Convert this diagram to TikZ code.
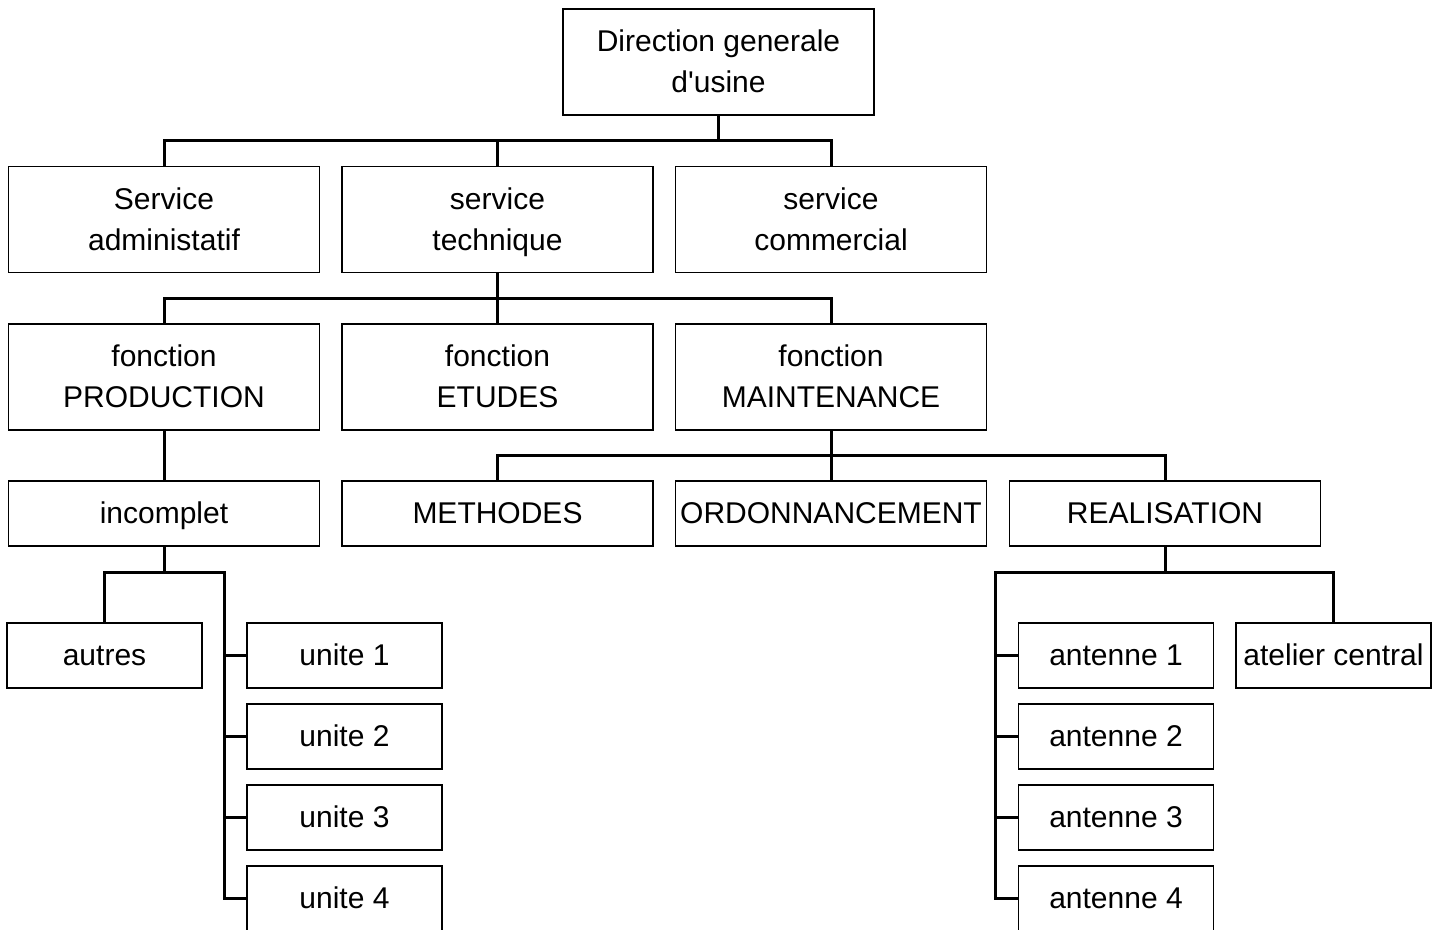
\documentclass[tikz,border=0pt]{standalone}
\usepackage{fontspec}
\setmainfont{Liberation Sans}[Ligatures=TeXOff]
\begin{document}
\begin{tikzpicture}[x=1pt,y=-1pt,
  box/.style={draw, line width=1.6pt, fill=white, align=center, inner sep=0pt,
    font=\fontsize{30}{41}\selectfont, text depth=7pt},
  big/.style={box, minimum width=311pt, minimum height=106pt, text height=68pt},
  small/.style={box, minimum width=311pt, minimum height=65pt, text height=26pt},
  leaf/.style={box, minimum width=195pt, minimum height=65pt, text height=26pt},
  link/.style={line width=3pt}]
\useasboundingbox (0,0) rectangle (1439,929);
\fill[white] (0,0) rectangle (1439,929);
% nodes
\node[big] (dir) at (718.5,62) {Direction generale\\d'usine};
\node[big] (sadm) at (164,219.5) {Service\\administatif};
\node[big] (stech) at (497.5,219.5) {service\\technique};
\node[big] (scom) at (831,219.5) {service\\commercial};
\node[big] (fprod) at (164,377) {fonction\\PRODUCTION};
\node[big] (fetud) at (497.5,377) {fonction\\ETUDES};
\node[big] (fmaint) at (831,377) {fonction\\MAINTENANCE};
\node[small] (incomp) at (164,513.5) {incomplet};
\node[small] (meth) at (497.5,513.5) {METHODES};
\node[small] (ordo) at (831,513.5) {ORDONNANCEMENT};
\node[small] (real) at (1165,513.5) {REALISATION};
\node[leaf] (autres) at (104.5,655.5) {autres};
\node[leaf] (u1) at (344.5,655.5) {unite 1};
\node[leaf] (u2) at (344.5,736.5) {unite 2};
\node[leaf] (u3) at (344.5,817.5) {unite 3};
\node[leaf] (u4) at (344.5,898.5) {unite 4};
\node[leaf] (a1) at (1116,655.5) {antenne 1};
\node[leaf] (a2) at (1116,736.5) {antenne 2};
\node[leaf] (a3) at (1116,817.5) {antenne 3};
\node[leaf] (a4) at (1116,898.5) {antenne 4};
\node[leaf] (atel) at (1333.5,655.5) {atelier central};
% bus coordinates
\coordinate (b1) at (0,140);
\coordinate (b2) at (0,298);
\coordinate (b3) at (0,455);
\coordinate (b4) at (0,572);
\coordinate (ubus) at (224,572);
\coordinate (abus) at (995,572);
% connectors
\draw[link] (dir.south) -- (dir.south |- b1);
\draw[link] (sadm.north) -- (sadm.north |- b1) -| (scom.north);
\draw[link] (stech.north) -- (stech.north |- b1);
\draw[link] (stech.south) -- (fetud.north);
\draw[link] (fprod.north) -- (fprod.north |- b2) -| (fmaint.north);
\draw[link] (fprod.south) -- (incomp.north);
\draw[link] (fmaint.south) -- (fmaint.south |- b3);
\draw[link] (meth.north) -- (meth.north |- b3) -| (real.north);
\draw[link] (ordo.north) -- (ordo.north |- b3);
\draw[link] (incomp.south) -- (incomp.south |- b4);
\draw[link] (autres.north) -- (autres.north |- b4) -- (ubus) |- (u4.west);
\draw[link] (ubus |- u1.west) -- (u1.west);
\draw[link] (ubus |- u2.west) -- (u2.west);
\draw[link] (ubus |- u3.west) -- (u3.west);
\draw[link] (real.south) -- (real.south |- b4);
\draw[link] (atel.north) -- (atel.north |- b4) -- (abus) |- (a4.west);
\draw[link] (abus |- a1.west) -- (a1.west);
\draw[link] (abus |- a2.west) -- (a2.west);
\draw[link] (abus |- a3.west) -- (a3.west);
\end{tikzpicture}
\end{document}
